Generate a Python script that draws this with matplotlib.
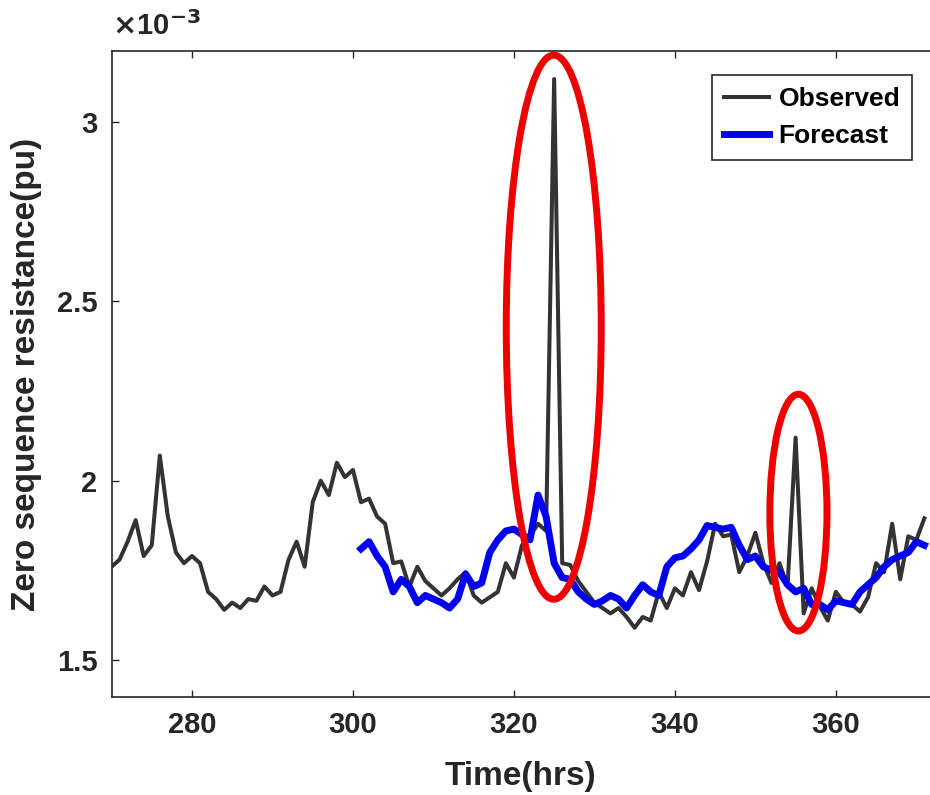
import numpy as np
import matplotlib
matplotlib.use("Agg")
import matplotlib.pyplot as plt
from matplotlib.patches import Ellipse

plt.rcParams['font.family'] = ['Liberation Sans', 'DejaVu Sans']
plt.rcParams['font.weight'] = 'bold'

# Observed series, hourly from 270 to 371 (values in 1e-3 pu)
obs_hours = list(range(270, 372))
obs_vals = [
    1.76, 1.78, 1.83, 1.89, 1.79, 1.82, 2.07, 1.90, 1.80, 1.77,
    1.79, 1.77, 1.69, 1.67, 1.64, 1.66, 1.645, 1.67, 1.665, 1.705,
    1.68, 1.69, 1.78, 1.83, 1.76, 1.94, 2.00, 1.96, 2.05, 2.01,
    2.03, 1.94, 1.95, 1.90, 1.88, 1.77, 1.775, 1.705, 1.76, 1.72,
    1.70, 1.68, 1.70, 1.725, 1.745, 1.68, 1.66, 1.675, 1.69, 1.77,
    1.73, 1.82, 1.845, 1.88, 1.86, 3.12, 1.77, 1.765, 1.72, 1.69,
    1.66, 1.645, 1.63, 1.645, 1.62, 1.59, 1.62, 1.61, 1.69, 1.645,
    1.70, 1.68, 1.745, 1.695, 1.775, 1.88, 1.845, 1.85, 1.745, 1.79,
    1.855, 1.77, 1.715, 1.77, 1.705, 2.12, 1.63, 1.70, 1.65, 1.61,
    1.69, 1.66, 1.655, 1.635, 1.675, 1.77, 1.745, 1.88, 1.725, 1.845,
    1.835, 1.895,
]

# Forecast series, hourly from 301 to 371
fc_hours = list(range(301, 372))
fc_vals = [
    1.81, 1.83, 1.79, 1.76, 1.69, 1.725, 1.705, 1.66, 1.68, 1.67,
    1.66, 1.645, 1.67, 1.74, 1.705, 1.715, 1.80, 1.835, 1.86, 1.865,
    1.85, 1.835, 1.96, 1.90, 1.77, 1.73, 1.725, 1.69, 1.67, 1.655,
    1.665, 1.68, 1.67, 1.645, 1.68, 1.71, 1.69, 1.68, 1.76, 1.785,
    1.79, 1.81, 1.835, 1.875, 1.87, 1.865, 1.87, 1.82, 1.78, 1.79,
    1.76, 1.75, 1.745, 1.71, 1.69, 1.70, 1.655, 1.655, 1.64, 1.665,
    1.66, 1.655, 1.69, 1.71, 1.73, 1.76, 1.78, 1.79, 1.80, 1.83,
    1.82,
]

x_ticks = [280, 300, 320, 340, 360]
y_ticks = [1.5, 2, 2.5, 3]
y_tick_labels = ['1.5', '2', '2.5', '3']

scale = 1e-3
obs = np.array(obs_vals) * scale
fc = np.array(fc_vals) * scale

fig = plt.figure(figsize=(9.3, 7.95), dpi=100)
ax = fig.add_axes([0.1199, 0.1233, 0.8801, 0.8125])

ax.plot(obs_hours, obs, color='#333333', lw=2.9, label='Observed', zorder=3)
ax.plot(fc_hours, fc, color='#0000ee', lw=5, label='Forecast', zorder=4)

# red highlight ellipses around the spikes
ax.add_patch(Ellipse((324.95, 2.428e-3), 11.8, 1.517e-3, fill=False,
                     edgecolor='#ee0000', lw=5, zorder=5, clip_on=False))
ax.add_patch(Ellipse((355.35, 1.911e-3), 7.1, 0.66e-3, fill=False,
                     edgecolor='#ee0000', lw=5, zorder=5, clip_on=False))

ax.set_xlim(270, 371.7)
ax.set_ylim(1.397e-3, 3.198e-3)
ax.set_xticks(x_ticks)
ax.set_yticks(np.array(y_ticks) * scale)
ax.set_yticklabels(y_tick_labels)
ax.tick_params(direction='in', length=5, width=1, labelsize=21, pad=10,
               top=True, colors='#262626')
ax.spines['right'].set_visible(False)
for s in ['left', 'top', 'bottom']:
    ax.spines[s].set_linewidth(1.2)
    ax.spines[s].set_color('#262626')

ax.text(0.0, 1.015, r'$\times$10$^{\mathbf{-3}}$', transform=ax.transAxes,
        fontsize=21, ha='left', va='bottom', color='#262626')

ax.set_xlabel('Time(hrs)', fontsize=24, fontweight='bold', labelpad=16, color='#262626')
ax.set_ylabel('Zero sequence resistance(pu)', fontsize=24, fontweight='bold',
              labelpad=11, color='#262626')

leg = ax.legend(loc='upper right', bbox_to_anchor=(912 / 930, (795 - 75) / 795),
                bbox_transform=fig.transFigure, fontsize=19, frameon=True,
                fancybox=False, framealpha=1, edgecolor='#262626',
                handlelength=1.7, handletextpad=0.35, labelspacing=0.5,
                borderpad=0.45, borderaxespad=0)
leg.get_frame().set_linewidth(1.2)
for t in leg.get_texts():
    t.set_fontweight('bold')

fig.savefig('out.png', dpi=100)
